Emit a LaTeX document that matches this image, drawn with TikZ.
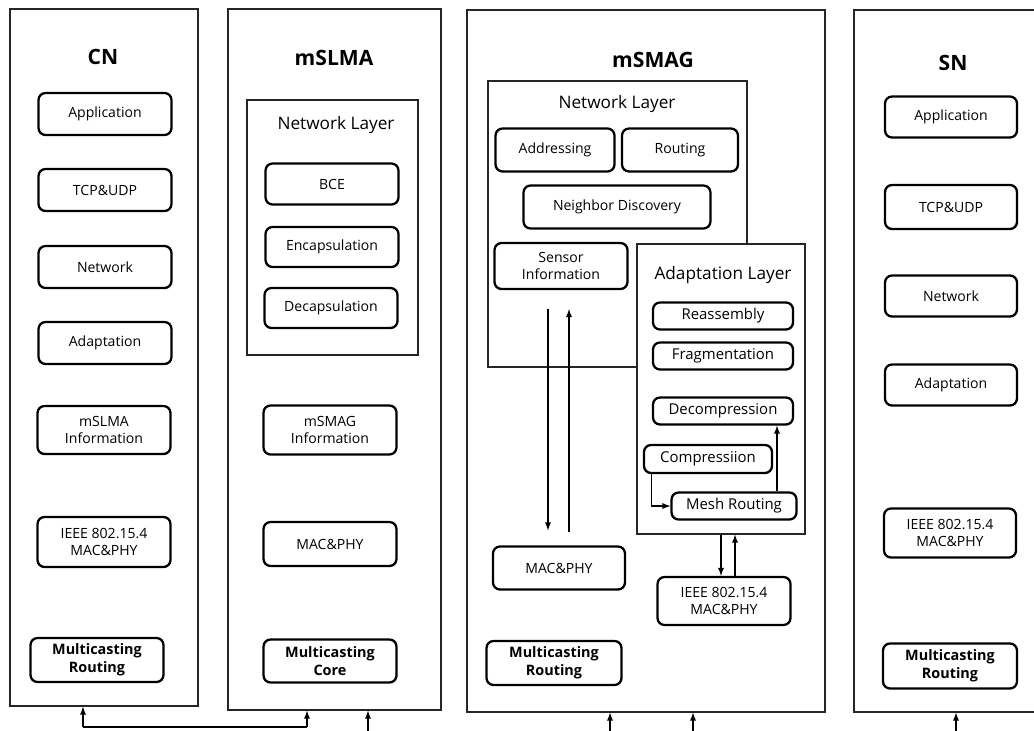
\documentclass[tikz,border=0pt]{standalone}
\usepackage{fontspec}
\setmainfont{Open Sans}
\usetikzlibrary{arrows}

\begin{document}
\begin{tikzpicture}[x=0.02cm, y=-0.02cm, >=latex,
	col/.style={draw=black!85, line width=0.8pt, inner sep=0pt},
	layer/.style={draw=black!85, line width=0.7pt, inner sep=0pt, fill=white},
	blk/.style={draw, line width=1.3pt, rounded corners=4pt, align=center, inner sep=1pt, font=\fontsize{8}{10}\selectfont},
	cbox/.style={blk, minimum width=2.66cm, minimum height=0.84cm},
	sbox/.style={blk, minimum width=2.8cm, minimum height=0.54cm, font=\fontsize{8.5}{10}\selectfont},
	mcast/.style={cbox, minimum height=0.88cm, font=\bfseries\fontsize{8.2}{10}\selectfont},
	ttl/.style={font=\bfseries\fontsize{12}{14}\selectfont},
	ltl/.style={font=\fontsize{9.8}{11}\selectfont},
	link/.style={->, line width=0.6pt}]

	\useasboundingbox (0,0) rectangle (1034,730);

	% columns
	\node[col, minimum width=3.76cm, minimum height=13.94cm] (cn) at (104,357.5) {};
	\node[col, minimum width=4.26cm, minimum height=14.02cm] (sla) at (334.5,359.5) {};
	\node[col, minimum width=7.16cm, minimum height=14.04cm] (sag) at (646,361) {};
	\node[col, minimum width=3.82cm, minimum height=14.04cm] (sn) at (949.5,361) {};

	\node[ttl] (cnt) at (103,57) {CN};
	\node[ttl] (slat) at (334,58) {mSLMA};
	\node[ttl] (sagt) at (653,60) {mSMAG};
	\node[ttl] (snt) at (953,63) {SN};

	% CN
	\node[cbox] (cnapp) at (105,114) {Application};
	\node[cbox] (cntcp) at (105,190) {TCP\&UDP};
	\node[cbox] (cnnet) at (105,267) {Network};
	\node[cbox] (cnada) at (105,343) {Adaptation};
	\node[cbox, minimum height=0.96cm] (cninf) at (104,430) {mSLMA\\Information};
	\node[cbox, minimum height=1cm] (cnmac) at (104,542) {IEEE 802.15.4\\MAC\&PHY};
	\node[mcast] (cnmul) at (97,660) {Multicasting\\Routing};

	% mSLMA
	\node[layer, minimum width=3.42cm, minimum height=5.1cm] (slanet) at (332.5,227.5) {};
	\node[ltl] (slanett) at (336,125) {Network Layer};
	\node[cbox, minimum height=0.82cm] (slabce) at (332,184) {BCE};
	\node[cbox, minimum height=0.8cm] (slaenc) at (332,247) {Encapsulation};
	\node[cbox, minimum height=0.8cm] (sladec) at (331,308) {Decapsulation};
	\node[cbox, minimum height=0.98cm] (slainf) at (330,430) {mSMAG\\Information};
	\node[cbox, minimum height=0.88cm] (slamac) at (330,544) {MAC\&PHY};
	\node[mcast, minimum height=0.86cm] (slamul) at (330,661) {Multicasting\\Core};

	% mSMAG
	\node[layer, minimum width=5.18cm, minimum height=5.72cm] (sagnet) at (617.5,224) {};
	\node[ltl] (sagnett) at (617,104) {Network Layer};
	\node[cbox, minimum width=2.38cm, minimum height=0.86cm] (sagadr) at (555,150) {Addressing};
	\node[cbox, minimum width=2.32cm, minimum height=0.86cm] (sagrt) at (680,150) {Routing};
	\node[cbox, minimum width=3.74cm, minimum height=0.86cm] (sagnd) at (617,207) {Neighbor Discovery};
	\node[cbox, minimum height=0.92cm] (sagsen) at (561,266) {Sensor\\Information};
	\node[layer, minimum width=3.36cm, minimum height=5.8cm] (sagada) at (721,389) {};
	\node[ltl] (sagadat) at (723,275) {Adaptation Layer};
	\node[sbox] (sagrea) at (723,316) {Reassembly};
	\node[sbox] (sagfra) at (723,356) {Fragmentation};
	\node[sbox] (sagdec) at (723,411) {Decompression};
	\node[sbox, minimum width=2.56cm, minimum height=0.56cm] (sagcom) at (708,459) {Compressiion};
	\node[sbox, minimum width=2.5cm] (sagmsh) at (734,506) {Mesh Routing};
	\node[cbox, minimum width=2.64cm, minimum height=0.86cm] (sagmac) at (559,568) {MAC\&PHY};
	\node[cbox, minimum height=0.96cm] (sagiee) at (724,601) {IEEE 802.15.4\\MAC\&PHY};
	\node[mcast, minimum width=2.7cm] (sagmul) at (554,663) {Multicasting\\Routing};

	% SN
	\node[cbox, minimum width=2.64cm, minimum height=0.82cm] (snapp) at (951,117) {Application};
	\node[cbox, minimum width=2.64cm, minimum height=0.88cm] (sntcp) at (951,207) {TCP\&UDP};
	\node[cbox, minimum width=2.64cm, minimum height=0.82cm] (snnet) at (951,296) {Network};
	\node[cbox, minimum width=2.64cm, minimum height=0.82cm] (snada) at (951,385) {Adaptation};
	\node[cbox, minimum width=2.64cm, minimum height=0.98cm] (snmac) at (950,533) {IEEE 802.15.4\\MAC\&PHY};
	\node[mcast, minimum width=2.68cm, minimum height=0.9cm] (snmul) at (950,666) {Multicasting\\Routing};

	% inside mSMAG
	\draw[link, shorten <=0.38cm, shorten >=0.3cm] ([xshift=-0.26cm]sagsen.south) -- ([xshift=-0.26cm]sagsen.south |- sagmac.north);
	\draw[link, shorten <=0.26cm, shorten >=0.38cm] ([xshift=0.16cm]sagsen.south |- sagmac.north) -- ([xshift=0.16cm]sagsen.south);
	\draw[link] ([xshift=0.18cm]sagcom.south west) |- (sagmsh.west);
	\draw[link] ([xshift=0.86cm]sagmsh.north) -- ([xshift=0.86cm]sagmsh.north |- sagdec.south);
	\draw[link] (sagada.south) -- (sagada.south |- sagiee.north);
	\draw[link] ([xshift=0.28cm]sagada.south |- sagiee.north) -- ([xshift=0.28cm]sagada.south);

	% below the columns
	\coordinate (b1) at (83,727);
	\coordinate (b2) at (307,727);
	\coordinate (b3) at (368,736);
	\coordinate (b4) at (610,736);
	\coordinate (b5) at (693,736);
	\coordinate (b6) at (956,736);
	\draw[line width=0.6pt] (b1) -- (b2);
	\draw[link] (b1) -- (b1 |- cn.south);
	\draw[link] (b2) -- (b2 |- sla.south);
	\draw[link] (b3) -- (b3 |- sla.south);
	\draw[link] (b4) -- (b4 |- sag.south);
	\draw[link] (b5) -- (b5 |- sag.south);
	\draw[link] (b6) -- (b6 |- sn.south);
\end{tikzpicture}
\end{document}
